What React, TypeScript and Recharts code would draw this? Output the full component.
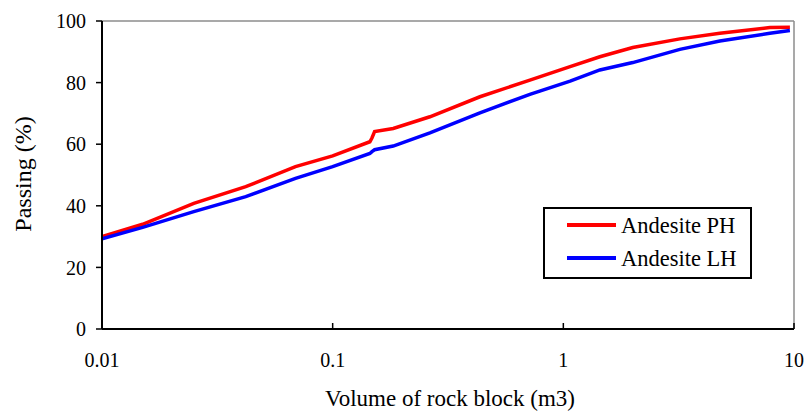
import React from 'react';
import { LineChart, Line, XAxis, YAxis, ReferenceLine, Legend, Label } from 'recharts';

const volume = [0.01, 0.015, 0.025, 0.042, 0.069, 0.1, 0.145, 0.148, 0.152, 0.183, 0.264, 0.435, 0.716, 1.07, 1.44, 2.0, 3.2, 4.77, 7.86, 9.6];
const passingPH = [30, 34, 40.8, 46.2, 52.7, 56.2, 60.8, 62, 64.1, 65.1, 68.9, 75.4, 80.8, 85.2, 88.4, 91.4, 94.2, 96, 97.9, 98];
const passingLH = [29.3, 33, 38.1, 43, 48.9, 52.7, 57, 57.6, 58.2, 59.4, 63.7, 70.2, 76.2, 80.5, 84.1, 86.5, 90.8, 93.5, 96, 96.9];
const xTicks = [0.01, 0.1, 1, 10];
const yTicks = [0, 20, 40, 60, 80, 100];
const seriesNames = ['Andesite PH', 'Andesite LH'];

const data = volume.map((v, i) => ({ v, ph: passingPH[i], lh: passingLH[i] }));

const FONT = 'Liberation Serif, Times New Roman, serif';
const textStyle = { fontFamily: FONT };

const XTick = (props: any) => {
  const { x, y, payload } = props;
  return (
    <g>
      <line x1={x} y1={y} x2={x} y2={y - 6} stroke="#000" strokeWidth={1.5} />
      <text x={x} y={y + 38} textAnchor="middle" style={textStyle} fontSize={20} fill="#000">
        {String(payload.value)}
      </text>
    </g>
  );
};

const renderLegend = (props: any) => {
  const payload = [...(props.payload || [])].sort(
    (a: any, b: any) => seriesNames.indexOf(a.value) - seriesNames.indexOf(b.value)
  );
  return (
    <div style={{ width: 209, height: 72, border: '2px solid #000', boxSizing: 'border-box', background: '#fff', position: 'relative' }}>
      <svg width={205} height={68} style={{ position: 'absolute', left: 0, top: 0 }}>
        {payload.map((p: any, i: number) => (
          <g key={i}>
            <line x1={22} x2={71} y1={16 + i * 33} y2={16 + i * 33} stroke={p.color} strokeWidth={4} />
            <text x={76} y={23.5 + i * 33} style={textStyle} fontSize={22.5} fill="#000">{p.value}</text>
          </g>
        ))}
      </svg>
    </div>
  );
};

export default function App() {
  return (
    <div style={{ position: 'absolute', left: 0, top: 0, fontFamily: FONT }}>
      <LineChart width={808} height={414} data={data} margin={{ top: 21, right: 14, bottom: 0, left: 0 }}>
        <XAxis
          dataKey="v"
          type="number"
          scale="log"
          domain={[0.01, 10]}
          ticks={xTicks}
          allowDataOverflow
          height={85}
          tickSize={0}
          tickMargin={0}
          tickLine={false}
          tick={<XTick />}
          axisLine={{ stroke: '#000', strokeWidth: 2 }}
        >
          <Label
            content={() => (
              <text x={450} y={406} textAnchor="middle" style={textStyle} fontSize={23} fill="#000">
                Volume of rock block (m3)
              </text>
            )}
          />
        </XAxis>
        <YAxis
          type="number"
          domain={[0, 100]}
          ticks={yTicks}
          width={102}
          tickSize={6}
          tickMargin={10}
          tick={{ style: textStyle, fontSize: 20, fill: '#000' }}
          tickLine={{ stroke: '#000', strokeWidth: 1.5 }}
          axisLine={{ stroke: '#000', strokeWidth: 2 }}
        >
          <Label
            content={() => (
              <text x={31} y={174} transform="rotate(-90, 31, 174)" textAnchor="middle" style={textStyle} fontSize={24} fill="#000">
                Passing (%)
              </text>
            )}
          />
        </YAxis>
        <ReferenceLine y={100} stroke="#8c8c8c" strokeWidth={1.5} />
        <ReferenceLine x={10} stroke="#8c8c8c" strokeWidth={1.5} />
        <Legend
          verticalAlign="middle"
          align="center"
          content={renderLegend}
          wrapperStyle={{ position: 'absolute', left: 543, top: 207, width: 209, height: 72 }}
        />
        <Line type="linear" dataKey="ph" name={seriesNames[0]} stroke="#ff0000" strokeWidth={3.5} dot={false} isAnimationActive={false} />
        <Line type="linear" dataKey="lh" name={seriesNames[1]} stroke="#0000ff" strokeWidth={3.5} dot={false} isAnimationActive={false} />
      </LineChart>
    </div>
  );
}
